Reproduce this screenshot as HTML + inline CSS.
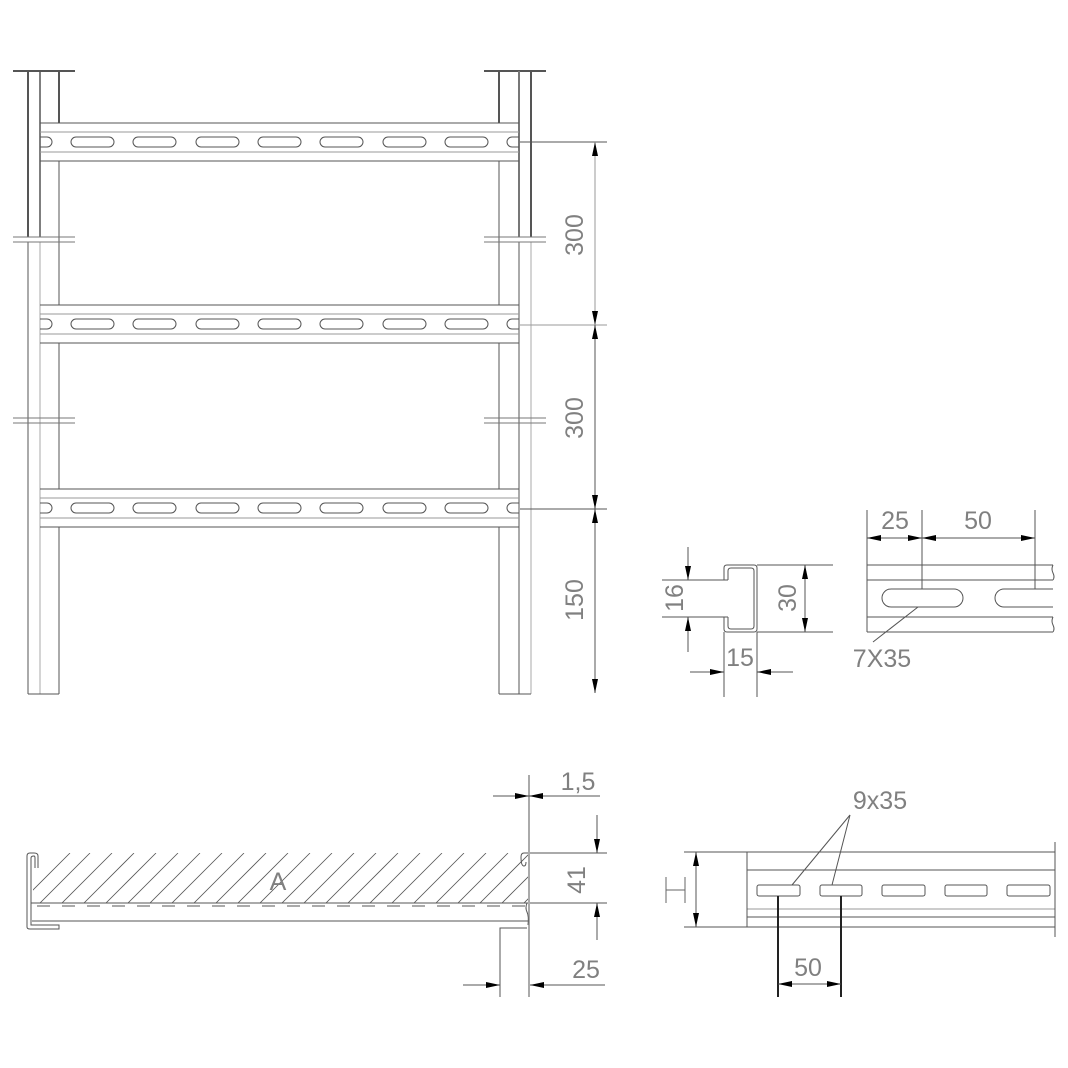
<!DOCTYPE html>
<html><head><meta charset="utf-8"><style>
html,body{margin:0;padding:0;background:#fff;}
svg{display:block;}
text{font-family:"Liberation Sans",sans-serif;fill:#808080;font-size:25px;}
</style></head><body>
<svg width="1068" height="1068" viewBox="0 0 1068 1068" xmlns="http://www.w3.org/2000/svg">
<defs>
<marker id="a" viewBox="0 0 14 6" refX="14" refY="3" markerWidth="15" markerHeight="6" markerUnits="userSpaceOnUse" orient="auto-start-reverse"><path d="M0,0 L14,3 L0,6 z" fill="#000"/></marker>
<clipPath id="hc"><rect x="33" y="853" width="495" height="50"/></clipPath>
<g id="rung" fill="none" stroke="#555" stroke-width="1">
<line x1="40" y1="0" x2="519" y2="0"/>
<line x1="40" y1="9" x2="519" y2="9" stroke="#999"/>
<line x1="40" y1="29" x2="519" y2="29" stroke="#999"/>
<line x1="40" y1="38" x2="519" y2="38"/>
<rect x="71" y="14" width="43" height="10" rx="5"/>
<rect x="133" y="14" width="43" height="10" rx="5"/>
<rect x="196" y="14" width="43" height="10" rx="5"/>
<rect x="258" y="14" width="43" height="10" rx="5"/>
<rect x="320" y="14" width="43" height="10" rx="5"/>
<rect x="383" y="14" width="43" height="10" rx="5"/>
<rect x="445" y="14" width="43" height="10" rx="5"/>
<path d="M40,14 H47 A5,5 0 0 1 47,24 H40"/>
<path d="M519,14 H512 A5,5 0 0 0 512,24 H519"/>
</g>
</defs>

<g fill="none" stroke="#555" stroke-width="1">
<line x1="13" y1="71" x2="75" y2="71" stroke-width="2"/>
<line x1="484" y1="71" x2="546" y2="71" stroke-width="2"/>
<line x1="28" y1="71" x2="28" y2="237" stroke-width="2"/>
<line x1="40" y1="71" x2="40" y2="237" stroke-width="1.5"/>
<line x1="59" y1="71" x2="59" y2="123" stroke-width="2"/>
<line x1="28" y1="242" x2="28" y2="694"/>
<line x1="40" y1="242" x2="40" y2="694" stroke="#aaa"/>
<line x1="59" y1="161" x2="59" y2="305"/>
<line x1="59" y1="343" x2="59" y2="489"/>
<line x1="59" y1="527" x2="59" y2="694"/>
<line x1="28" y1="694" x2="59" y2="694"/>
<line x1="499" y1="71" x2="499" y2="123" stroke-width="2"/>
<line x1="519" y1="71" x2="519" y2="237" stroke-width="2" stroke="#777"/>
<line x1="531" y1="71" x2="531" y2="237" stroke-width="2"/>
<line x1="499" y1="161" x2="499" y2="305"/>
<line x1="499" y1="343" x2="499" y2="489"/>
<line x1="499" y1="527" x2="499" y2="694"/>
<line x1="519" y1="242" x2="519" y2="694"/>
<line x1="531" y1="242" x2="531" y2="694" stroke="#aaa"/>
<line x1="499" y1="694" x2="531" y2="694"/>
<g stroke="#777">
<line x1="13" y1="237" x2="75" y2="237"/><line x1="13" y1="242" x2="75" y2="242"/>
<line x1="13" y1="418" x2="75" y2="418"/><line x1="13" y1="423" x2="75" y2="423"/>
<line x1="484" y1="237" x2="546" y2="237"/><line x1="484" y1="242" x2="546" y2="242"/>
<line x1="484" y1="418" x2="546" y2="418"/><line x1="484" y1="423" x2="546" y2="423"/>
</g>
</g>
<use href="#rung" transform="translate(0,123)"/>
<use href="#rung" transform="translate(0,305)"/>
<use href="#rung" transform="translate(0,489)"/>

<g stroke="#555" stroke-width="1" fill="none">
<line x1="520" y1="142" x2="607" y2="142"/>
<line x1="520" y1="325" x2="607" y2="325" stroke="#999"/>
<line x1="520" y1="509" x2="607" y2="509"/>
<line x1="595" y1="142" x2="595" y2="325" marker-start="url(#a)" marker-end="url(#a)" stroke="#999"/>
<line x1="595" y1="325" x2="595" y2="509" marker-start="url(#a)" marker-end="url(#a)"/>
<line x1="595" y1="509" x2="595" y2="693" marker-start="url(#a)" marker-end="url(#a)"/>
</g>
<text transform="translate(583,235) rotate(-90)" text-anchor="middle">300</text>
<text transform="translate(583,418) rotate(-90)" text-anchor="middle">300</text>
<text transform="translate(583,600) rotate(-90)" text-anchor="middle">150</text>

<g clip-path="url(#hc)" stroke="#555" stroke-width="0.8">
<path d="M20,923 L90,853 M42,923 L112,853 M64,923 L134,853 M86,923 L156,853 M108,923 L178,853 M130,923 L200,853 M152,923 L222,853 M174,923 L244,853 M196,923 L266,853 M218,923 L288,853 M240,923 L310,853 M262,923 L332,853 M284,923 L354,853 M306,923 L376,853 M328,923 L398,853 M350,923 L420,853 M372,923 L442,853 M394,923 L464,853 M416,923 L486,853 M438,923 L508,853 M460,923 L530,853 M482,923 L552,853 M504,923 L574,853 M526,923 L596,853 M0,923 L70,853"/>
</g>
<g fill="none" stroke="#555" stroke-width="1">
<path d="M38,868 V856 Q38,853 34,853 H30 Q27,853 27,856 V927 Q27,929 30,929 H59 V925 H31 V903"/>
<path d="M31,903 V858 Q31,856 34,856 Q35,856 35,858 V868"/>
<line x1="31" y1="903" x2="528" y2="903"/>
<line x1="31" y1="906" x2="528" y2="906" stroke-dasharray="13,12" stroke-dashoffset="-6"/>
<line x1="31" y1="921" x2="528" y2="921" stroke="#aaa" stroke-width="2"/>
<path d="M528,853 H524 Q521,853 521,857 Q521,866 524,866 Q526,866 526,862"/>
<line x1="529" y1="775" x2="529" y2="925" stroke="#aaa" stroke-width="2"/>
<path d="M529,925 V997"/>
<path d="M500,997 V928 H527"/>
<path d="M527,903 Q525,908 527,912 Q529,916 528,925"/>
<line x1="493" y1="796" x2="529" y2="796" marker-end="url(#a)"/>
<line x1="600" y1="796" x2="529" y2="796" marker-end="url(#a)"/>
<line x1="530" y1="853" x2="607" y2="853"/>
<line x1="530" y1="903" x2="607" y2="903"/>
<line x1="597" y1="815" x2="597" y2="853" marker-end="url(#a)"/>
<line x1="597" y1="940" x2="597" y2="903" marker-end="url(#a)"/>
<line x1="463" y1="985" x2="500" y2="985" marker-end="url(#a)"/>
<line x1="605" y1="985" x2="530" y2="985" marker-end="url(#a)"/>
</g>
<text x="278" y="890" text-anchor="middle">A</text>
<text x="578" y="790" text-anchor="middle">1,5</text>
<text transform="translate(585,880) rotate(-90)" text-anchor="middle">41</text>
<text x="586" y="978" text-anchor="middle">25</text>

<g fill="none" stroke="#555" stroke-width="1">
<path d="M724,580 V568 Q724,565 727,565 H754 Q757,565 757,568 V629 Q757,632 754,632 H727 Q724,632 724,629 V617"/>
<path d="M728,580 V571 Q728,568 731,568 H751 Q754,568 754,571 V626 Q754,629 751,629 H731 Q728,629 728,626 V617"/>
<line x1="662" y1="580" x2="728" y2="580"/>
<line x1="662" y1="617" x2="728" y2="617"/>
<line x1="688" y1="547" x2="688" y2="580" marker-end="url(#a)"/>
<line x1="688" y1="652" x2="688" y2="617" marker-end="url(#a)"/>
<line x1="757" y1="565" x2="833" y2="565"/>
<line x1="757" y1="632" x2="833" y2="632"/>
<line x1="805" y1="565" x2="805" y2="632" marker-start="url(#a)" marker-end="url(#a)"/>
<line x1="724" y1="632" x2="724" y2="697"/>
<line x1="757" y1="632" x2="757" y2="697"/>
<line x1="690" y1="672" x2="724" y2="672" marker-end="url(#a)"/>
<line x1="793" y1="672" x2="757" y2="672" marker-end="url(#a)"/>
</g>
<text transform="translate(683,598) rotate(-90)" text-anchor="middle">16</text>
<text transform="translate(796,598) rotate(-90)" text-anchor="middle">30</text>
<text x="740" y="666" text-anchor="middle">15</text>

<g fill="none" stroke="#555" stroke-width="1">
<line x1="867" y1="510" x2="867" y2="632"/>
<line x1="867" y1="565" x2="1053" y2="565"/>
<line x1="867" y1="580" x2="1053" y2="580"/>
<line x1="867" y1="617" x2="1053" y2="617"/>
<line x1="867" y1="632" x2="1053" y2="632"/>
<path d="M1053,565 q-2,4 0,8 q2,4 0,7 M1053,617 q-2,4 0,8 q2,4 0,7"/>
<rect x="882" y="589" width="81" height="18" rx="9"/>
<path d="M1053,589 H1004 A9,9 0 0 0 1004,607 H1053"/>
<line x1="922" y1="510" x2="922" y2="589"/>
<line x1="1035" y1="510" x2="1035" y2="589"/>
<line x1="867" y1="538" x2="922" y2="538" marker-start="url(#a)" marker-end="url(#a)"/>
<line x1="922" y1="538" x2="1035" y2="538" marker-start="url(#a)" marker-end="url(#a)"/>
<line x1="918" y1="607" x2="873" y2="642"/>
</g>
<text x="895" y="529" text-anchor="middle">25</text>
<text x="978" y="529" text-anchor="middle">50</text>
<text x="882" y="667" text-anchor="middle">7X35</text>

<g fill="none" stroke="#555" stroke-width="1">
<line x1="684" y1="852" x2="1055" y2="852"/>
<line x1="747" y1="870" x2="1055" y2="870"/>
<line x1="747" y1="909" x2="1055" y2="909" stroke="#999"/>
<line x1="747" y1="917" x2="1055" y2="917"/>
<line x1="684" y1="927" x2="1055" y2="927"/>
<line x1="747" y1="852" x2="747" y2="927"/>
<line x1="1055" y1="842" x2="1055" y2="937"/>
<line x1="696" y1="852" x2="696" y2="927" marker-start="url(#a)" marker-end="url(#a)"/>
<rect x="757" y="885" width="43" height="11" rx="2"/>
<rect x="820" y="885" width="42" height="11" rx="2"/>
<rect x="882" y="885" width="43" height="11" rx="2"/>
<rect x="945" y="885" width="42" height="11" rx="2"/>
<rect x="1007" y="885" width="43" height="11" rx="2"/>
<line x1="778" y1="896" x2="778" y2="997" stroke="#222" stroke-width="2"/>
<line x1="841" y1="896" x2="841" y2="997" stroke="#222" stroke-width="2"/>
<line x1="778" y1="984" x2="841" y2="984" marker-start="url(#a)" marker-end="url(#a)"/>
<line x1="850" y1="815" x2="792" y2="885"/>
<line x1="850" y1="815" x2="832" y2="885"/>
</g>
<text x="880" y="809" text-anchor="middle">9x35</text>
<text x="808" y="976" text-anchor="middle">50</text>
<path d="M666,877 V903 M666,890 H685 M685,877 V903" stroke="#666" fill="none"/>
</svg>
</body></html>
